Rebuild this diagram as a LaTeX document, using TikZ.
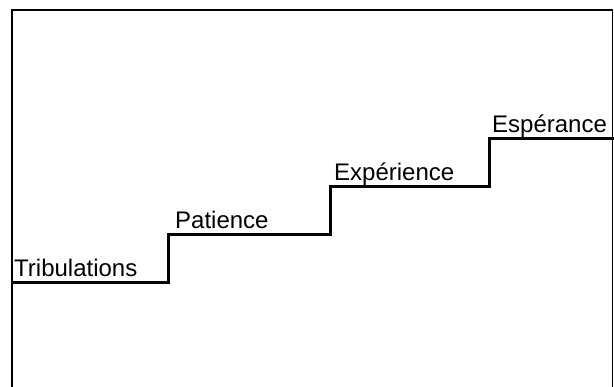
\documentclass[tikz,border=0pt]{standalone}
\usepackage{fontspec}
\setmainfont{Liberation Sans}
\begin{document}
\begin{tikzpicture}[x=1pt,y=-1pt,
  frameline/.style={line width=1.8pt,black},
  stairline/.style={line width=3pt,black,line join=miter},
  steplabel/.style={anchor=base west,inner sep=0pt,font=\fontsize{24}{28}\selectfont}]
\useasboundingbox (0,0) rectangle (614,387);
\draw[frameline] (12,390) -- (12,10) -- (612.5,10) -- (612.5,390);
\coordinate (s0) at (12,282.5);
\coordinate (s1) at (168,282.5);
\coordinate (s2) at (168,235);
\coordinate (s3) at (330,235);
\coordinate (s4) at (330,187);
\coordinate (s5) at (489,187);
\coordinate (s6) at (489,139);
\coordinate (s7) at (614,139);
\draw[stairline] (s0) -- (s1) -- (s2) -- (s3) -- (s4) -- (s5) -- (s6) -- (s7);
\node[steplabel] (t1) at (14,277) {Tribulations};
\node[steplabel] (t2) at (175,229) {Patience};
\node[steplabel] (t3) at (334,181) {Expérience};
\node[steplabel] (t4) at (492,133) {Espérance};
\end{tikzpicture}
\end{document}
